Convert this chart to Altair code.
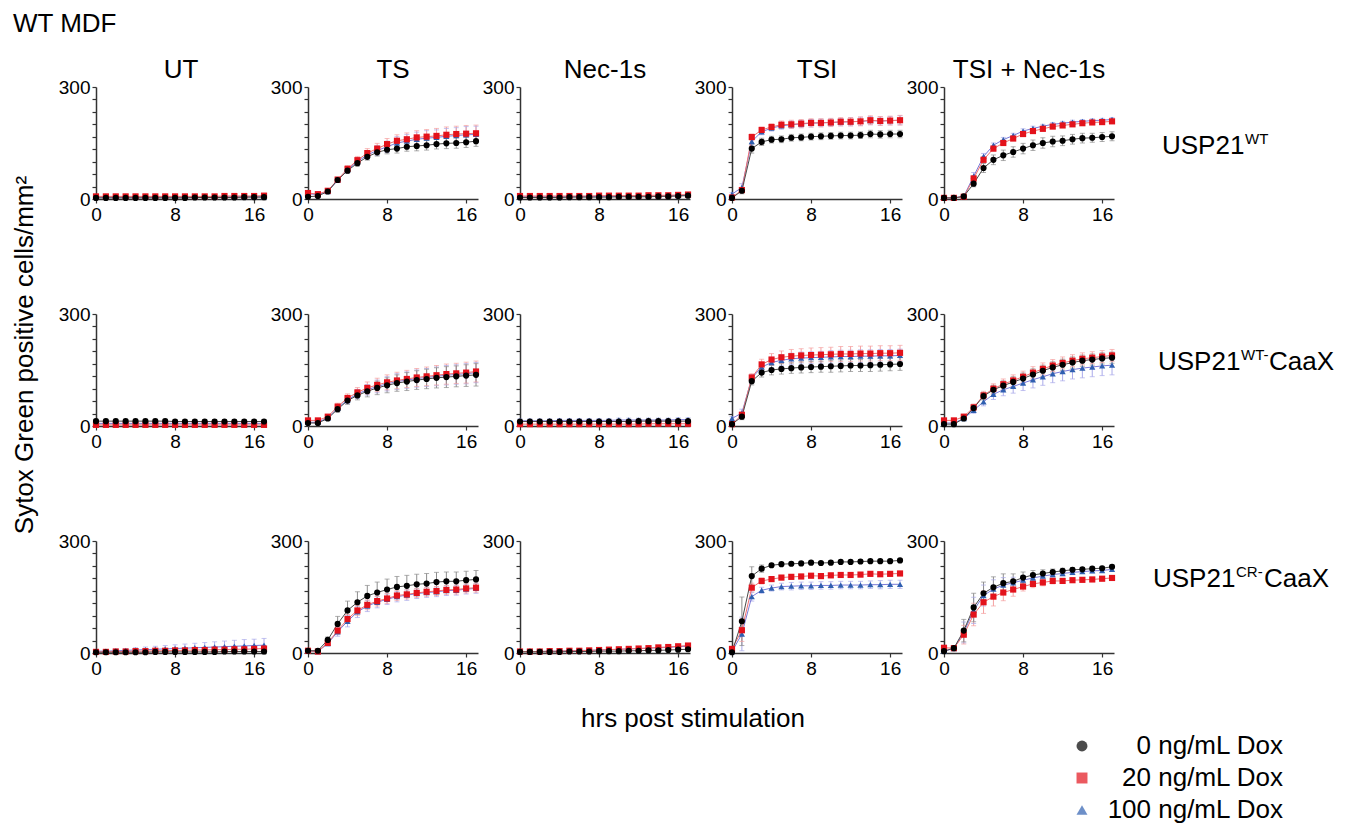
import altair as alt
import pandas as pd

FONT = "Liberation Sans"

HOURS = [0, 1, 2, 3, 4, 5, 6, 7, 8, 9, 10, 11, 12, 13, 14, 15, 16, 17]
COL_TITLES = ["UT", "TS", "Nec-1s", "TSI", "TSI + Nec-1s"]
COL_KEYS = ["UT", "TS", "NEC", "TSI", "TSIN"]
ROW_KEYS = ["WT", "WTC", "CRC"]
ROW_MAIN = ["USP21", "USP21", "USP21"]
ROW_SUP = ["WT", "WT-", "CR-"]
ROW_TAIL = ["", "CaaX", "CaaX"]
DOSES = ["0 ng/mL Dox", "20 ng/mL Dox", "100 ng/mL Dox"]
DOSE_KEYS = ["0", "20", "100"]
POINT_COLORS = ["#000000", "#e3121b", "#2f5fb0"]
LINE_COLORS = ["#4a4a4a", "#f07070", "#7a7ad8"]
ERR_COLORS = ["#8c8c8c", "#f5a0a0", "#aaaaea"]
SHAPES = ["circle", "square", "triangle-up"]
Y_TICKS = [0, 33.3, 66.7, 100, 133.3, 166.7, 200, 233.3, 266.7, 300]
X_TICKS = [0, 8, 16]

# ---------------- USP21 WT ----------------
WT_UT_0 = [3, 3, 3, 3, 3, 3, 3, 3, 3, 3, 4, 4, 4, 4, 4, 5, 5, 5]
WT_UT_0_SD = [2, 2, 2, 2, 2, 2, 2, 2, 2, 2, 2, 2, 2, 2, 2, 2, 2, 3]
WT_UT_20 = [7, 7, 7, 7, 7, 7, 7, 7, 7, 7, 7, 7, 7, 8, 8, 8, 8, 9]
WT_UT_20_SD = [2, 2, 2, 2, 2, 2, 2, 2, 2, 2, 2, 2, 2, 2, 2, 2, 3, 3]
WT_UT_100 = [5, 5, 5, 5, 5, 5, 5, 5, 5, 5, 5, 5, 5, 6, 6, 6, 6, 6]
WT_UT_100_SD = [2, 2, 2, 2, 2, 2, 2, 2, 2, 2, 2, 2, 2, 2, 2, 2, 2, 2]

WT_TS_0 = [6, 8, 20, 51, 76, 96, 113, 125, 132, 135, 140, 142, 144, 147, 149, 150, 152, 155]
WT_TS_0_SD = [3, 3, 4, 6, 7, 8, 9, 10, 11, 12, 12, 13, 13, 13, 14, 14, 14, 14]
WT_TS_20 = [16, 13, 22, 52, 81, 104, 123, 135, 147, 156, 160, 165, 167, 169, 172, 174, 175, 176]
WT_TS_20_SD = [4, 4, 5, 6, 8, 10, 12, 14, 15, 16, 17, 18, 19, 20, 21, 21, 22, 22]
WT_TS_100 = [14, 12, 20, 50, 78, 100, 118, 130, 140, 150, 155, 160, 163, 165, 168, 170, 172, 173]
WT_TS_100_SD = [4, 4, 5, 6, 8, 10, 11, 13, 15, 17, 18, 19, 20, 20, 21, 21, 22, 22]

WT_NEC_0 = [4, 4, 4, 4, 4, 5, 5, 5, 5, 5, 6, 6, 6, 6, 7, 7, 8, 9]
WT_NEC_0_SD = [2, 2, 2, 2, 2, 2, 2, 2, 2, 2, 2, 2, 2, 2, 2, 2, 3, 3]
WT_NEC_20 = [8, 8, 8, 8, 8, 8, 8, 8, 9, 9, 9, 9, 9, 10, 10, 10, 11, 12]
WT_NEC_20_SD = [2, 2, 2, 2, 2, 2, 2, 2, 2, 2, 2, 2, 3, 3, 3, 3, 3, 3]
WT_NEC_100 = [6, 6, 6, 6, 6, 6, 7, 7, 7, 7, 7, 8, 8, 8, 8, 9, 9, 10]
WT_NEC_100_SD = [2, 2, 2, 2, 2, 2, 2, 2, 2, 2, 2, 2, 2, 2, 3, 3, 3, 3]

WT_TSI_0 = [3, 22, 135, 153, 159, 160, 164, 165, 167, 168, 169, 170, 170, 171, 174, 173, 174, 174]
WT_TSI_0_SD = [3, 8, 12, 10, 9, 9, 9, 9, 9, 9, 9, 9, 9, 9, 10, 10, 10, 10]
WT_TSI_20 = [4, 24, 166, 185, 193, 199, 200, 202, 204, 204, 205, 207, 207, 208, 211, 209, 210, 211]
WT_TSI_20_SD = [3, 6, 8, 7, 8, 10, 11, 11, 11, 11, 11, 11, 11, 12, 12, 12, 12, 13]
WT_TSI_100 = [13, 31, 154, 180, 190, 196, 199, 201, 203, 204, 205, 206, 207, 208, 210, 209, 210, 211]
WT_TSI_100_SD = [4, 10, 12, 8, 8, 9, 10, 10, 10, 10, 10, 10, 11, 11, 11, 11, 11, 12]

WT_TSIN_0 = [3, 3, 7, 41, 83, 105, 117, 126, 135, 144, 150, 154, 156, 160, 163, 164, 166, 168]
WT_TSIN_0_SD = [2, 2, 3, 8, 12, 13, 14, 14, 14, 14, 14, 14, 13, 13, 13, 12, 12, 12]
WT_TSIN_20 = [3, 3, 6, 55, 105, 135, 150, 162, 174, 182, 188, 194, 197, 200, 203, 205, 206, 208]
WT_TSIN_20_SD = [2, 2, 3, 8, 8, 7, 6, 6, 6, 6, 6, 5, 5, 5, 5, 5, 5, 5]
WT_TSIN_100 = [3, 3, 7, 61, 114, 144, 159, 170, 182, 189, 195, 200, 203, 206, 208, 210, 211, 213]
WT_TSIN_100_SD = [2, 2, 3, 10, 8, 6, 6, 6, 6, 6, 5, 5, 5, 5, 5, 5, 5, 5]

# ---------------- USP21 WT-CaaX ----------------
WTC_UT_0 = [13, 13, 13, 13, 13, 13, 13, 13, 12, 12, 12, 12, 12, 12, 12, 12, 12, 12]
WTC_UT_0_SD = [5, 5, 5, 5, 5, 5, 5, 5, 5, 5, 5, 5, 5, 5, 5, 5, 5, 5]
WTC_UT_20 = [3, 3, 3, 3, 3, 3, 3, 3, 3, 3, 3, 3, 3, 3, 3, 3, 3, 3]
WTC_UT_20_SD = [2, 2, 2, 2, 2, 2, 2, 2, 2, 2, 2, 2, 2, 2, 2, 2, 2, 2]
WTC_UT_100 = [7, 7, 7, 7, 7, 7, 7, 7, 7, 7, 7, 7, 7, 7, 7, 7, 7, 7]
WTC_UT_100_SD = [3, 3, 3, 3, 3, 3, 3, 3, 3, 3, 3, 3, 3, 3, 3, 3, 3, 3]

WTC_TS_0 = [8, 8, 20, 45, 68, 82, 93, 102, 109, 115, 119, 123, 126, 129, 131, 133, 135, 137]
WTC_TS_0_SD = [4, 4, 5, 8, 10, 12, 15, 18, 20, 22, 24, 25, 26, 27, 28, 28, 29, 30]
WTC_TS_20 = [15, 15, 25, 52, 75, 90, 102, 110, 117, 122, 126, 130, 133, 136, 139, 141, 143, 146]
WTC_TS_20_SD = [5, 5, 6, 9, 11, 13, 16, 18, 20, 22, 23, 24, 25, 26, 27, 27, 28, 28]
WTC_TS_100 = [10, 10, 22, 48, 70, 86, 97, 106, 113, 119, 123, 127, 130, 133, 136, 138, 140, 143]
WTC_TS_100_SD = [4, 4, 5, 8, 10, 12, 14, 17, 19, 21, 22, 23, 24, 25, 26, 26, 27, 27]

WTC_NEC_0 = [12, 12, 12, 12, 12, 12, 12, 12, 12, 12, 12, 12, 13, 13, 13, 13, 13, 13]
WTC_NEC_0_SD = [4, 4, 4, 4, 4, 4, 4, 4, 4, 4, 4, 4, 4, 4, 4, 4, 4, 4]
WTC_NEC_20 = [5, 5, 5, 5, 5, 5, 5, 5, 5, 5, 5, 5, 5, 6, 6, 6, 6, 6]
WTC_NEC_20_SD = [2, 2, 2, 2, 2, 2, 2, 2, 2, 2, 2, 2, 2, 2, 2, 2, 2, 2]
WTC_NEC_100 = [14, 14, 14, 14, 15, 15, 15, 15, 15, 15, 16, 16, 16, 16, 16, 16, 17, 17]
WTC_NEC_100_SD = [5, 5, 5, 5, 5, 5, 5, 5, 5, 5, 5, 5, 5, 5, 5, 5, 5, 5]

WTC_TSI_0 = [5, 25, 120, 143, 150, 153, 155, 157, 158, 159, 160, 161, 162, 162, 163, 164, 165, 166]
WTC_TSI_0_SD = [3, 8, 10, 12, 13, 14, 14, 15, 15, 15, 16, 16, 16, 16, 17, 17, 17, 17]
WTC_TSI_20 = [5, 30, 130, 165, 178, 184, 187, 189, 190, 191, 192, 193, 193, 194, 194, 195, 195, 196]
WTC_TSI_20_SD = [3, 8, 10, 14, 16, 17, 18, 18, 19, 19, 19, 20, 20, 20, 20, 20, 20, 20]
WTC_TSI_100 = [20, 35, 128, 158, 170, 176, 180, 182, 183, 184, 185, 186, 186, 187, 187, 188, 188, 189]
WTC_TSI_100_SD = [5, 10, 10, 12, 14, 15, 15, 16, 16, 16, 17, 17, 17, 17, 17, 17, 17, 17]

WTC_TSIN_0 = [5, 5, 20, 48, 80, 97, 108, 118, 127, 138, 148, 157, 164, 170, 175, 178, 181, 183]
WTC_TSIN_0_SD = [3, 3, 5, 8, 10, 12, 13, 14, 15, 15, 15, 15, 15, 15, 15, 15, 15, 15]
WTC_TSIN_20 = [15, 15, 25, 50, 82, 100, 112, 122, 132, 143, 153, 162, 169, 175, 180, 183, 186, 189]
WTC_TSIN_20_SD = [5, 5, 6, 9, 11, 13, 14, 15, 15, 16, 16, 16, 16, 16, 16, 16, 16, 16]
WTC_TSIN_100 = [8, 8, 20, 42, 65, 85, 97, 106, 115, 124, 132, 140, 146, 151, 155, 158, 161, 163]
WTC_TSIN_100_SD = [3, 3, 5, 8, 11, 14, 16, 18, 20, 22, 23, 24, 25, 25, 26, 26, 26, 26]

# ---------------- USP21 CR-CaaX ----------------
CRC_UT_0 = [2, 2, 2, 2, 2, 2, 3, 3, 3, 3, 3, 3, 3, 4, 4, 4, 4, 4]
CRC_UT_0_SD = [2, 2, 2, 2, 2, 2, 2, 2, 2, 2, 2, 2, 2, 2, 2, 2, 2, 2]
CRC_UT_20 = [3, 3, 4, 4, 5, 5, 6, 6, 7, 7, 8, 8, 9, 9, 10, 10, 11, 12]
CRC_UT_20_SD = [3, 3, 3, 3, 3, 3, 4, 4, 4, 4, 4, 4, 5, 5, 5, 5, 5, 5]
CRC_UT_100 = [5, 5, 6, 7, 8, 9, 10, 11, 12, 13, 14, 15, 16, 17, 18, 19, 20, 21]
CRC_UT_100_SD = [4, 4, 5, 5, 6, 7, 8, 9, 10, 11, 12, 13, 14, 15, 16, 17, 17, 18]

CRC_TS_0 = [6, 6, 35, 78, 114, 136, 153, 162, 170, 177, 180, 184, 186, 190, 192, 192, 195, 197]
CRC_TS_0_SD = [3, 3, 8, 20, 25, 28, 28, 28, 28, 28, 28, 27, 27, 26, 25, 25, 24, 24]
CRC_TS_20 = [6, 4, 27, 60, 91, 114, 129, 139, 146, 154, 157, 161, 164, 166, 169, 170, 173, 175]
CRC_TS_20_SD = [3, 3, 6, 10, 12, 13, 13, 13, 13, 13, 12, 12, 12, 12, 12, 12, 12, 12]
CRC_TS_100 = [6, 4, 25, 57, 85, 110, 126, 136, 144, 151, 155, 159, 162, 164, 167, 168, 171, 173]
CRC_TS_100_SD = [3, 3, 6, 12, 15, 15, 15, 15, 14, 14, 14, 13, 13, 13, 13, 13, 13, 13]

CRC_NEC_0 = [3, 3, 3, 3, 3, 4, 4, 4, 5, 5, 5, 6, 6, 7, 7, 8, 9, 10]
CRC_NEC_0_SD = [2, 2, 2, 2, 2, 2, 2, 2, 2, 3, 3, 3, 3, 3, 3, 3, 3, 3]
CRC_NEC_20 = [4, 4, 4, 5, 5, 6, 6, 7, 8, 9, 10, 11, 12, 13, 15, 16, 18, 20]
CRC_NEC_20_SD = [2, 2, 2, 2, 2, 3, 3, 3, 3, 3, 3, 4, 4, 4, 4, 4, 5, 5]
CRC_NEC_100 = [4, 4, 4, 5, 5, 6, 7, 7, 8, 9, 10, 11, 12, 13, 14, 15, 17, 18]
CRC_NEC_100_SD = [2, 2, 2, 2, 3, 3, 3, 3, 3, 4, 4, 4, 4, 4, 5, 5, 5, 5]

CRC_TSI_0 = [2, 85, 206, 226, 235, 238, 239, 240, 242, 241, 242, 244, 244, 245, 246, 246, 246, 248]
CRC_TSI_0_SD = [2, 65, 25, 10, 5, 4, 4, 4, 4, 4, 4, 4, 4, 4, 4, 4, 4, 4]
CRC_TSI_20 = [11, 61, 175, 193, 198, 202, 204, 205, 207, 206, 208, 209, 209, 210, 212, 211, 212, 213]
CRC_TSI_20_SD = [4, 30, 12, 8, 6, 6, 6, 6, 6, 6, 6, 6, 6, 6, 6, 6, 6, 6]
CRC_TSI_100 = [4, 51, 151, 168, 174, 178, 179, 180, 180, 181, 181, 182, 182, 182, 183, 183, 184, 184]
CRC_TSI_100_SD = [3, 45, 12, 8, 8, 9, 10, 10, 10, 10, 10, 10, 10, 10, 10, 11, 11, 11]

CRC_TSIN_0 = [5, 13, 60, 122, 160, 176, 187, 192, 202, 209, 213, 217, 220, 223, 224, 226, 227, 231]
CRC_TSIN_0_SD = [3, 4, 30, 38, 30, 28, 25, 20, 15, 12, 10, 8, 7, 6, 5, 5, 5, 5]
CRC_TSIN_20 = [14, 13, 49, 103, 136, 151, 162, 170, 178, 185, 189, 193, 193, 195, 196, 197, 199, 201]
CRC_TSIN_20_SD = [5, 4, 25, 30, 30, 25, 22, 18, 12, 10, 9, 8, 7, 6, 6, 6, 6, 6]
CRC_TSIN_100 = [5, 12, 55, 114, 154, 171, 182, 188, 195, 201, 206, 210, 213, 216, 218, 220, 221, 224]
CRC_TSIN_100_SD = [3, 4, 28, 35, 28, 25, 20, 15, 12, 10, 8, 7, 6, 6, 5, 5, 5, 5]

# ------------------------------------------------------------
records = []
g = globals()
for r in ROW_KEYS:
    for c in COL_KEYS:
        for di in [2, 1, 0]:
            means = g[f"{r}_{c}_{DOSE_KEYS[di]}"]
            sds = g[f"{r}_{c}_{DOSE_KEYS[di]}_SD"]
            for t, m, s in zip(HOURS, means, sds):
                records.append({
                    "row": r, "col": c, "dose": DOSES[di], "t": t,
                    "mean": m, "lo": max(m - s, 0), "hi": m + s,
                    "lcol": LINE_COLORS[di], "ecol": ERR_COLORS[di],
                })
df = pd.DataFrame(records)

W, H = 170, 112

x_scale = alt.Scale(domain=[0, 17.2], nice=False, zero=False)
y_scale = alt.Scale(domain=[0, 300], nice=False)
x_axis = alt.Axis(values=X_TICKS, title=None, labelFlush=False, format="d")
y_axis = alt.Axis(values=Y_TICKS, title=None, labelFlush=False,
                  labelExpr="datum.value == 0 || datum.value == 300 ? format(datum.value, 'd') : ''")

legend = alt.Legend(title=None, orient="none", legendX=973, legendY=646,
                    labelFontSize=26, labelFont=FONT, labelColor="#000",
                    symbolSize=120, symbolStrokeWidth=0, symbolOpacity=1, rowPadding=6,
                    labelAlign="right", labelOffset=188, labelLimit=400)


def text_layer(txt, x, y, size=26, align="left", baseline="alphabetic", angle=0):
    return alt.Chart(pd.DataFrame({"s": [txt]})).mark_text(
        align=align, baseline=baseline, fontSize=size, font=FONT, color="#000", angle=angle
    ).encode(text="s:N", x=alt.value(x), y=alt.value(y))


def panel(ri, ci):
    r, c = ROW_KEYS[ri], COL_KEYS[ci]
    d = df[(df["row"] == r) & (df["col"] == c)]
    base = alt.Chart(d)
    X = alt.X("t:Q", scale=x_scale, axis=x_axis)
    err = base.mark_rule(strokeWidth=1).encode(
        x=X, y=alt.Y("lo:Q", scale=y_scale, axis=y_axis), y2="hi:Q",
        color=alt.Color("ecol:N", scale=None))
    cap_lo = base.mark_tick(orient="horizontal", size=5, thickness=1).encode(
        x=X, y=alt.Y("lo:Q", scale=y_scale, axis=y_axis), color=alt.Color("ecol:N", scale=None))
    cap_hi = base.mark_tick(orient="horizontal", size=5, thickness=1).encode(
        x=X, y=alt.Y("hi:Q", scale=y_scale, axis=y_axis), color=alt.Color("ecol:N", scale=None))
    line = base.mark_line(strokeWidth=1).encode(
        x=X, y=alt.Y("mean:Q", scale=y_scale, axis=y_axis),
        color=alt.Color("lcol:N", scale=None), detail="dose:N")
    pts = base.mark_point(filled=True, size=38, opacity=1).encode(
        x=X, y=alt.Y("mean:Q", scale=y_scale, axis=y_axis),
        color=alt.Color("dose:N", scale=alt.Scale(domain=DOSES, range=POINT_COLORS), legend=legend),
        shape=alt.Shape("dose:N", scale=alt.Scale(domain=DOSES, range=SHAPES), legend=legend))
    layers = [err, cap_lo, cap_hi, line, pts]
    if ri == 0:
        layers.append(text_layer(COL_TITLES[ci], W / 2, -9, align="center"))
    if ri == 0 and ci == 0:
        layers.append(text_layer("WT MDF", -83, -55))
    if ri == 1 and ci == 0:
        layers.append(text_layer("Sytox Green positive cells/mm²", -71, 41,
                                 align="center", baseline="middle", angle=270))
    if ri == 2 and ci == 2:
        layers.append(text_layer("hrs post stimulation", 173, 186, align="center"))
    if ci == 4:
        x0 = [218, 214, 209][ri]
        yb = [67, 56, 46][ri]
        layers.append(text_layer(ROW_MAIN[ri], x0, yb))
        layers.append(text_layer(ROW_SUP[ri], x0 + 83, yb - 10, size=15))
        if ROW_TAIL[ri]:
            layers.append(text_layer(ROW_TAIL[ri], x0 + 111, yb))
    return alt.layer(*layers).properties(width=W, height=H)


panels = [panel(ri, ci) for ri in range(3) for ci in range(5)]
chart = alt.concat(*panels, columns=5, spacing={"row": 115, "column": 42},
                   bounds="flush").properties(
    padding={"left": 3, "top": 3, "right": 5, "bottom": 5}
).configure_view(stroke=None).configure_axis(
    grid=False, labelFont=FONT, labelFontSize=19, labelColor="#000",
    domainColor="#333", domainWidth=1.5, tickColor="#333", tickWidth=1.2,
    tickSize=4, labelPadding=2
)

chart.save("out.html", embed_options={"renderer": "svg", "actions": False})
